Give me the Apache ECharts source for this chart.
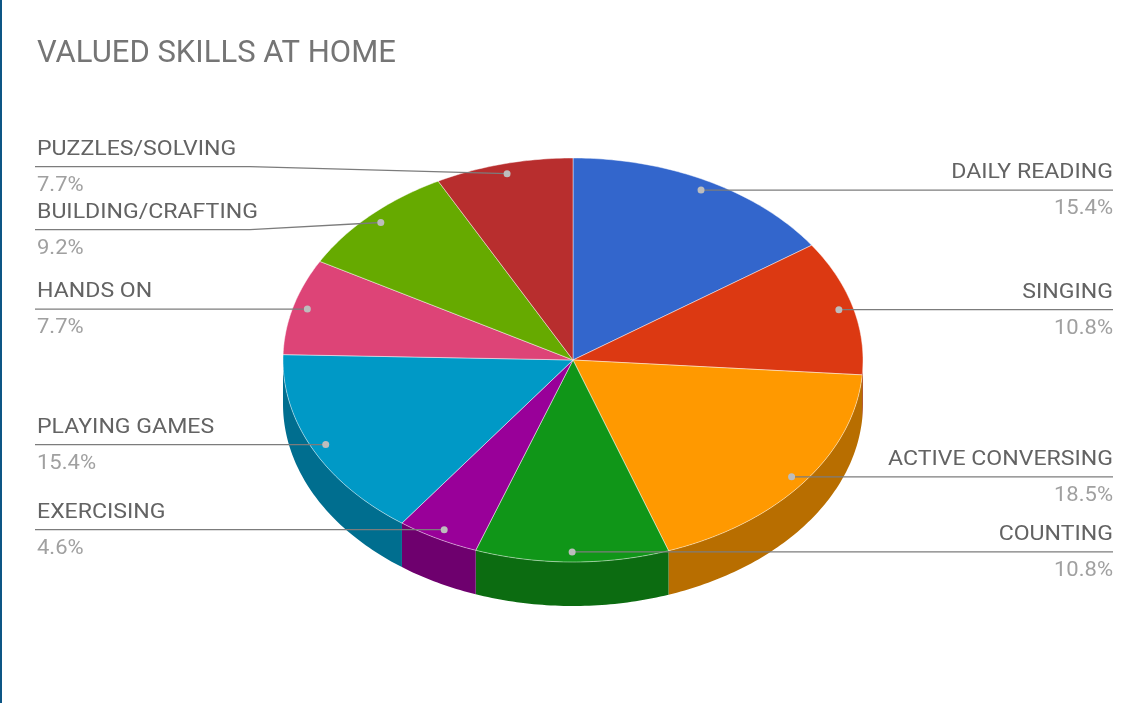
<!DOCTYPE html>
<html>
<head>
<meta charset="utf-8">
<script src="https://cdn.jsdelivr.net/npm/echarts@6/dist/echarts.min.js"></script>
<style>
  html, body { margin: 0; padding: 0; background: #ffffff; }
  #chart { width: 1143px; height: 703px; }
</style>
</head>
<body>
<div id="chart"></div>
<script>
// ---- data ----
const chartTitle = 'VALUED SKILLS AT HOME';
const categories = [
  'DAILY READING', 'SINGING', 'ACTIVE CONVERSING', 'COUNTING', 'EXERCISING',
  'PLAYING GAMES', 'HANDS ON', 'BUILDING/CRAFTING', 'PUZZLES/SOLVING'
];
const shares = [15.4, 10.8, 18.5, 10.8, 4.6, 15.4, 7.7, 9.2, 7.7];
const sliceColors = [
  '#3366cc', '#dc3912', '#ff9900', '#109618', '#990099',
  '#0099c6', '#dd4477', '#66aa00', '#b82e2e'
];

// ---- layout of the tilted pie ----
const PIE = { cx: 573, cy: 360, rx: 290, ry: 202, depth: 44, anchor: 0.95 };
const LABEL = { left: 37, right: 1113, leftElbow: 250, rightElbow: 900, gap: 63 };
const FONT = 'Roboto, "Noto Sans", sans-serif';
const TEXT_STRETCH = 1.1;

const total = shares.reduce((a, b) => a + b, 0);

// angles are measured clockwise from 12 o'clock
function ellipsePoint(a, r, dy) {
  return [PIE.cx + PIE.rx * r * Math.sin(a), PIE.cy - PIE.ry * r * Math.cos(a) + (dy || 0)];
}
function arcPoints(a0, a1, dy) {
  const pts = [];
  const n = Math.max(2, Math.ceil((a1 - a0) / 0.015));
  for (let k = 0; k <= n; k++) pts.push(ellipsePoint(a0 + (a1 - a0) * k / n, 1, dy));
  return pts;
}
function darken(hex, f) {
  const n = parseInt(hex.slice(1), 16);
  const r = Math.round(((n >> 16) & 255) * f);
  const g = Math.round(((n >> 8) & 255) * f);
  const b = Math.round((n & 255) * f);
  return 'rgb(' + r + ',' + g + ',' + b + ')';
}

// slice angles
let acc = 0;
const slices = shares.map(function (v) {
  const a0 = acc / total * Math.PI * 2;
  acc += v;
  const a1 = acc / total * Math.PI * 2;
  return { a0: a0, a1: a1, mid: (a0 + a1) / 2 };
});

// leader anchors and label rows, spread apart on each side
slices.forEach(function (s) {
  s.dot = ellipsePoint(s.mid, PIE.anchor);
  s.side = s.mid <= Math.PI + 0.01 ? 'right' : 'left';
  s.labelY = s.dot[1];
});
['left', 'right'].forEach(function (side) {
  const group = slices.filter(s => s.side === side).sort((p, q) => p.labelY - q.labelY);
  for (let it = 0; it < 60; it++) {
    for (let k = 1; k < group.length; k++) {
      const d = LABEL.gap - (group[k].labelY - group[k - 1].labelY);
      if (d > 0) { group[k - 1].labelY -= d / 2; group[k].labelY += d / 2; }
    }
  }
});

function renderSlice(params, api) {
  const i = params.dataIndex;
  const s = slices[i];
  const children = [];

  // outer wall, only the part that faces the viewer
  const f0 = Math.max(s.a0, Math.PI / 2);
  const f1 = Math.min(s.a1, Math.PI * 1.5);
  if (f1 > f0) {
    const upper = arcPoints(f0, f1, 0);
    const lower = arcPoints(f0, f1, PIE.depth).reverse();
    children.push({
      type: 'polygon', z2: 1,
      shape: { points: upper.concat(lower) },
      style: { fill: darken(sliceColors[i], 0.72) }
    });
  }

  // top face
  children.push({
    type: 'polygon', z2: 2,
    shape: { points: [[PIE.cx, PIE.cy]].concat(arcPoints(s.a0, s.a1, 0)) },
    style: { fill: sliceColors[i], stroke: 'rgba(255,255,255,0.45)', lineWidth: 1 }
  });

  // leader line
  const right = s.side === 'right';
  const endX = right ? LABEL.right : LABEL.left - 2;
  const pts = [s.dot];
  if (Math.abs(s.labelY - s.dot[1]) > 1) pts.push([right ? LABEL.rightElbow : LABEL.leftElbow, s.labelY]);
  pts.push([endX, s.labelY]);
  children.push({
    type: 'polyline', z2: 3,
    shape: { points: pts },
    style: { stroke: '#7c7c7c', lineWidth: 1.3, fill: null }
  });
  children.push({
    type: 'circle', z2: 4,
    shape: { cx: s.dot[0], cy: s.dot[1], r: 3.5 },
    style: { fill: '#bdbdbd' }
  });

  // category name and share
  const tx = right ? LABEL.right : LABEL.left;
  const align = right ? 'right' : 'left';
  children.push({
    type: 'text', z2: 5, x: tx, y: s.labelY - 17, scaleX: TEXT_STRETCH,
    style: {
      text: categories[i], fill: '#636363', fontSize: 21, fontFamily: FONT,
      align: align, verticalAlign: 'middle'
    }
  });
  children.push({
    type: 'text', z2: 5, x: tx, y: s.labelY + 19, scaleX: TEXT_STRETCH,
    style: {
      text: api.value(0).toFixed(1) + '%', fill: '#a0a0a0', fontSize: 20, fontFamily: FONT,
      align: align, verticalAlign: 'middle'
    }
  });

  return { type: 'group', children: children };
}

const chart = echarts.init(document.getElementById('chart'), null, { renderer: 'canvas' });
chart.setOption({
  backgroundColor: '#ffffff',
  animation: false,
  title: {
    text: chartTitle,
    left: 32,
    top: 34,
    textStyle: { color: '#757575', fontSize: 31, fontWeight: 'normal', fontFamily: FONT }
  },
  graphic: [{
    type: 'rect', left: 0, top: 0,
    shape: { width: 2, height: 703 },
    style: { fill: '#0d5685' }
  }],
  series: [{
    type: 'custom',
    coordinateSystem: 'none',
    silent: true,
    renderItem: renderSlice,
    data: shares.map((v, i) => ({ name: categories[i], value: [v] }))
  }]
});
</script>
</body>
</html>
